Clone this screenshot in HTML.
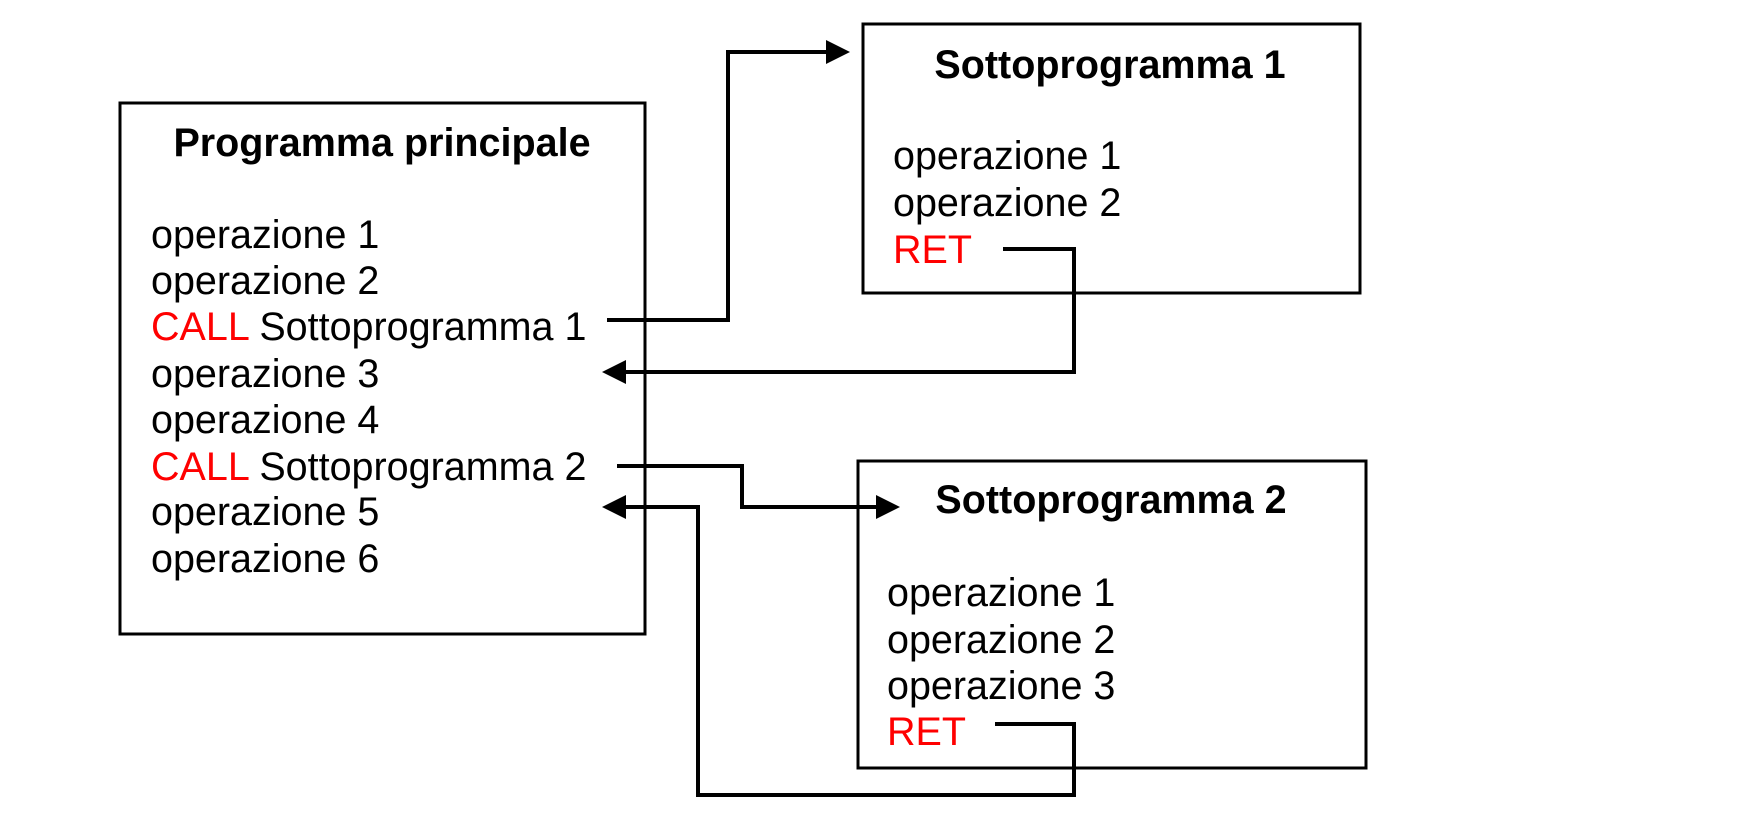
<!DOCTYPE html>
<html><head><meta charset="utf-8"><style>
body{margin:0;background:#fff;}
svg text{font-family:"Liberation Sans",Arial,sans-serif;}
</style></head><body>
<svg width="1738" height="810" xmlns="http://www.w3.org/2000/svg">
<g fill="none" stroke="#000" stroke-width="3">
<rect x="120" y="103" width="525" height="531"/>
<rect x="863" y="24" width="497" height="269"/>
<rect x="858" y="461" width="508" height="307"/>
</g>
<g fill="none" stroke="#000" stroke-width="4">
<polyline points="607,320 728,320 728,52 828,52"/>
<polyline points="1003,249 1074,249 1074,372 624,372"/>
<polyline points="617,466 742,466 742,507 878,507"/>
<polyline points="995,724 1074,724 1074,795 698,795 698,507 624,507"/>
</g>
<g fill="#000">
<polygon points="850,52 826,40 826,64"/>
<polygon points="602,372 626,360 626,384"/>
<polygon points="900,507 876,495 876,519"/>
<polygon points="602,507 626,495 626,519"/>
</g>
<g font-size="39.5" fill="#000">
<text x="382" y="156" text-anchor="middle" font-weight="bold" font-size="39.5">Programma principale</text>
<text x="151" y="248">operazione 1</text>
<text x="151" y="294">operazione 2</text>
<text x="151" y="340"><tspan fill="#f00">CALL</tspan> Sottoprogramma 1</text>
<text x="151" y="387">operazione 3</text>
<text x="151" y="433">operazione 4</text>
<text x="151" y="480"><tspan fill="#f00">CALL</tspan> Sottoprogramma 2</text>
<text x="151" y="525">operazione 5</text>
<text x="151" y="572">operazione 6</text>
<text x="1110" y="78" text-anchor="middle" font-weight="bold" font-size="39.5">Sottoprogramma 1</text>
<text x="893" y="169">operazione 1</text>
<text x="893" y="216">operazione 2</text>
<text x="893" y="263" fill="#f00">RET</text>
<text x="1111" y="513" text-anchor="middle" font-weight="bold" font-size="39.5">Sottoprogramma 2</text>
<text x="887" y="606">operazione 1</text>
<text x="887" y="653">operazione 2</text>
<text x="887" y="699">operazione 3</text>
<text x="887" y="745" fill="#f00">RET</text>
</g>
</svg>
</body></html>
